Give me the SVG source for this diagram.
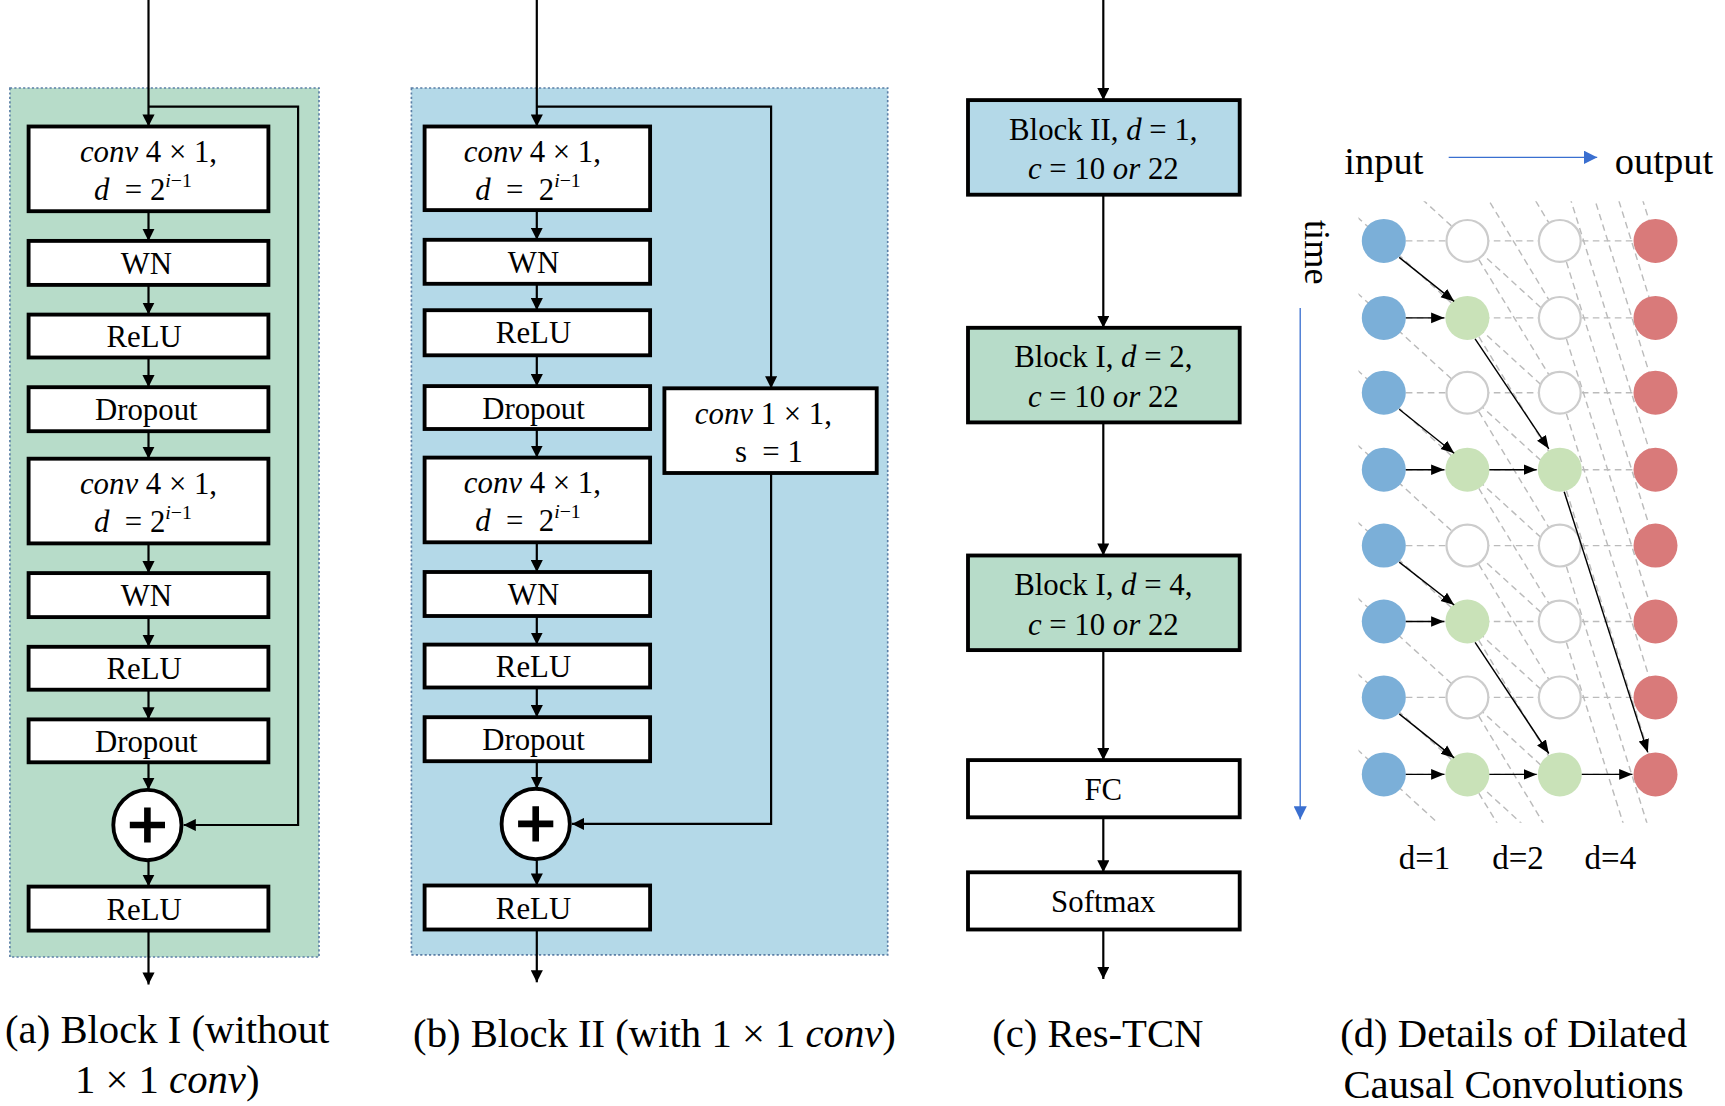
<svg xmlns="http://www.w3.org/2000/svg" width="1725" height="1106" viewBox="0 0 1725 1106">
<style>
.bx{fill:#fff;stroke:#000;stroke-width:3.5}
.t{font-family:"Liberation Serif",serif;font-size:28px;text-anchor:middle;fill:#000}
.cap{font-family:"Liberation Serif",serif;font-size:37px;text-anchor:middle;fill:#000}
.ln{stroke:#000;stroke-width:2;fill:none}
.dg{stroke:#bbb;stroke-width:1.3;stroke-dasharray:6 4;fill:none}
.ar{stroke:#000;stroke-width:1.3;fill:none}
</style>
<defs>
<marker id="ah" viewBox="0 0 10 10" refX="10" refY="5" markerWidth="11" markerHeight="11" markerUnits="userSpaceOnUse" orient="auto"><path d="M0,0L10,5L0,10z" fill="#000"/></marker>
<marker id="as" viewBox="0 0 10 10" refX="10" refY="5" markerWidth="12" markerHeight="12" markerUnits="userSpaceOnUse" orient="auto"><path d="M0,1L10,5L0,9z" fill="#000"/></marker>
<marker id="ab" viewBox="0 0 10 10" refX="10" refY="5" markerWidth="12" markerHeight="12" markerUnits="userSpaceOnUse" orient="auto"><path d="M0,0L10,5L0,10z" fill="#3a6fd0"/></marker>
<clipPath id="cp"><rect x="1235" y="183" width="300" height="565"/></clipPath>
</defs>
<g transform="scale(1.1)">
<rect id="panelA" x="9" y="80" width="281" height="790" fill="#b7dcc9" stroke="#5b7fa6" stroke-width="1.5" stroke-dasharray="2 2"/>
<rect id="panelB" x="374" y="80" width="433" height="788" fill="#b4d9e8" stroke="#5b7fa6" stroke-width="1.5" stroke-dasharray="2 2"/>

<g id="connectors">
<line class="ln" x1="135" y1="0" x2="135" y2="115" marker-end="url(#ah)"/>
<polyline class="ln" points="135,97 271,97 271,750 167,750" marker-end="url(#ah)"/>
<line class="ln" x1="135" y1="192" x2="135" y2="219" marker-end="url(#ah)"/>
<line class="ln" x1="135" y1="259" x2="135" y2="286" marker-end="url(#ah)"/>
<line class="ln" x1="135" y1="325" x2="135" y2="352" marker-end="url(#ah)"/>
<line class="ln" x1="135" y1="392" x2="135" y2="417" marker-end="url(#ah)"/>
<line class="ln" x1="135" y1="494" x2="135" y2="521" marker-end="url(#ah)"/>
<line class="ln" x1="135" y1="561" x2="135" y2="588" marker-end="url(#ah)"/>
<line class="ln" x1="135" y1="627" x2="135" y2="654" marker-end="url(#ah)"/>
<line class="ln" x1="135" y1="693" x2="135" y2="718" marker-end="url(#ah)"/>
<line class="ln" x1="135" y1="783" x2="135" y2="806" marker-end="url(#ah)"/>
<line class="ln" x1="135" y1="846" x2="135" y2="895" marker-end="url(#ah)"/>
<line class="ln" x1="488" y1="0" x2="488" y2="115" marker-end="url(#ah)"/>
<polyline class="ln" points="488,97 701,97 701,353" marker-end="url(#ah)"/>
<polyline class="ln" points="701,430 701,749 520,749" marker-end="url(#ah)"/>
<line class="ln" x1="488" y1="191" x2="488" y2="218" marker-end="url(#ah)"/>
<line class="ln" x1="488" y1="258" x2="488" y2="282" marker-end="url(#ah)"/>
<line class="ln" x1="488" y1="323" x2="488" y2="351" marker-end="url(#ah)"/>
<line class="ln" x1="488" y1="390" x2="488" y2="416" marker-end="url(#ah)"/>
<line class="ln" x1="488" y1="493" x2="488" y2="520" marker-end="url(#ah)"/>
<line class="ln" x1="488" y1="560" x2="488" y2="586" marker-end="url(#ah)"/>
<line class="ln" x1="488" y1="625" x2="488" y2="652" marker-end="url(#ah)"/>
<line class="ln" x1="488" y1="692" x2="488" y2="717" marker-end="url(#ah)"/>
<line class="ln" x1="488" y1="782" x2="488" y2="805" marker-end="url(#ah)"/>
<line class="ln" x1="488" y1="845" x2="488" y2="893" marker-end="url(#ah)"/>
<line class="ln" x1="1003" y1="0" x2="1003" y2="91" marker-end="url(#ah)"/>
<line class="ln" x1="1003" y1="177" x2="1003" y2="298" marker-end="url(#ah)"/>
<line class="ln" x1="1003" y1="384" x2="1003" y2="505" marker-end="url(#ah)"/>
<line class="ln" x1="1003" y1="591" x2="1003" y2="691" marker-end="url(#ah)"/>
<line class="ln" x1="1003" y1="743" x2="1003" y2="793" marker-end="url(#ah)"/>
<line class="ln" x1="1003" y1="845" x2="1003" y2="890" marker-end="url(#ah)"/>
</g>

<g id="a-conv1"><rect class="bx" x="26" y="115" width="218" height="77"/><text class="t" x="135" y="147"><tspan font-style="italic">conv</tspan> 4 × 1,</text><text class="t" x="130" y="182" xml:space="preserve"><tspan font-style="italic">d</tspan>  = 2<tspan font-size="18" dy="-12"><tspan font-style="italic">i</tspan>−1</tspan></text></g>
<g id="a-wn1"><rect class="bx" x="26" y="219" width="218" height="40"/><text class="t" x="133" y="249">WN</text></g>
<g id="a-relu1"><rect class="bx" x="26" y="286" width="218" height="39"/><text class="t" x="131" y="315">ReLU</text></g>
<g id="a-drop1"><rect class="bx" x="26" y="352" width="218" height="40"/><text class="t" x="133" y="382">Dropout</text></g>
<g id="a-conv2"><rect class="bx" x="26" y="417" width="218" height="77"/><text class="t" x="135" y="449"><tspan font-style="italic">conv</tspan> 4 × 1,</text><text class="t" x="130" y="484" xml:space="preserve"><tspan font-style="italic">d</tspan>  = 2<tspan font-size="18" dy="-12"><tspan font-style="italic">i</tspan>−1</tspan></text></g>
<g id="a-wn2"><rect class="bx" x="26" y="521" width="218" height="40"/><text class="t" x="133" y="551">WN</text></g>
<g id="a-relu2"><rect class="bx" x="26" y="588" width="218" height="39"/><text class="t" x="131" y="617">ReLU</text></g>
<g id="a-drop2"><rect class="bx" x="26" y="654" width="218" height="39"/><text class="t" x="133" y="684">Dropout</text></g>
<g id="a-add"><ellipse cx="134" cy="750" rx="31" ry="32" fill="#fff" stroke="#000" stroke-width="3.5"/><path d="M134,734V766M118,750H150" stroke="#000" stroke-width="6"/></g>
<g id="a-relu3"><rect class="bx" x="26" y="806" width="218" height="40"/><text class="t" x="131" y="836">ReLU</text></g>

<g id="b-conv1"><rect class="bx" x="386" y="115" width="205" height="76"/><text class="t" x="484" y="147"><tspan font-style="italic">conv</tspan> 4 × 1,</text><text class="t" x="480" y="182" xml:space="preserve"><tspan font-style="italic">d</tspan>  =  2<tspan font-size="18" dy="-12"><tspan font-style="italic">i</tspan>−1</tspan></text></g>
<g id="b-wn1"><rect class="bx" x="386" y="218" width="205" height="40"/><text class="t" x="485" y="248">WN</text></g>
<g id="b-relu1"><rect class="bx" x="386" y="282" width="205" height="41"/><text class="t" x="485" y="312">ReLU</text></g>
<g id="b-drop1"><rect class="bx" x="386" y="351" width="205" height="39"/><text class="t" x="485" y="381">Dropout</text></g>
<g id="b-conv2"><rect class="bx" x="386" y="416" width="205" height="77"/><text class="t" x="484" y="448"><tspan font-style="italic">conv</tspan> 4 × 1,</text><text class="t" x="480" y="483" xml:space="preserve"><tspan font-style="italic">d</tspan>  =  2<tspan font-size="18" dy="-12"><tspan font-style="italic">i</tspan>−1</tspan></text></g>
<g id="b-wn2"><rect class="bx" x="386" y="520" width="205" height="40"/><text class="t" x="485" y="550">WN</text></g>
<g id="b-relu2"><rect class="bx" x="386" y="586" width="205" height="39"/><text class="t" x="485" y="615">ReLU</text></g>
<g id="b-drop2"><rect class="bx" x="386" y="652" width="205" height="40"/><text class="t" x="485" y="682">Dropout</text></g>
<g id="b-conv1x1"><rect class="bx" x="604" y="353" width="193" height="77" stroke-width="3"/><text class="t" x="694" y="385"><tspan font-style="italic">conv</tspan> 1 × 1,</text><text class="t" x="699" y="420" xml:space="preserve">s  = 1</text></g>
<g id="b-add"><ellipse cx="487" cy="749" rx="31" ry="32" fill="#fff" stroke="#000" stroke-width="3.5"/><path d="M487,733V765M471,749H503" stroke="#000" stroke-width="6"/></g>
<g id="b-relu3"><rect class="bx" x="386" y="805" width="205" height="40"/><text class="t" x="485" y="835">ReLU</text></g>

<g id="c-b1"><rect class="bx" x="880" y="91" width="247" height="86" style="fill:#b4d9e8"/><text class="t" x="1003" y="127">Block II, <tspan font-style="italic">d</tspan> = 1,</text><text class="t" x="1003" y="163"><tspan font-style="italic">c</tspan> = 10 <tspan font-style="italic">or</tspan> 22</text></g>
<g id="c-b2"><rect class="bx" x="880" y="298" width="247" height="86" style="fill:#b7dcc9"/><text class="t" x="1003" y="334">Block I, <tspan font-style="italic">d</tspan> = 2,</text><text class="t" x="1003" y="370"><tspan font-style="italic">c</tspan> = 10 <tspan font-style="italic">or</tspan> 22</text></g>
<g id="c-b3"><rect class="bx" x="880" y="505" width="247" height="86" style="fill:#b7dcc9"/><text class="t" x="1003" y="541">Block I, <tspan font-style="italic">d</tspan> = 4,</text><text class="t" x="1003" y="577"><tspan font-style="italic">c</tspan> = 10 <tspan font-style="italic">or</tspan> 22</text></g>
<g id="c-fc"><rect class="bx" x="880" y="691" width="247" height="52"/><text class="t" x="1003" y="727">FC</text></g>
<g id="c-sm"><rect class="bx" x="880" y="793" width="247" height="52"/><text class="t" x="1003" y="829">Softmax</text></g>

<g id="d-grid">
<g clip-path="url(#cp)">
<g class="dg">
<line x1="1258" y1="219" x2="1505" y2="219"/><line x1="1258" y1="289" x2="1505" y2="289"/><line x1="1258" y1="357" x2="1505" y2="357"/><line x1="1258" y1="427" x2="1505" y2="427"/><line x1="1258" y1="496" x2="1505" y2="496"/><line x1="1258" y1="565" x2="1505" y2="565"/><line x1="1258" y1="634" x2="1505" y2="634"/><line x1="1258" y1="704" x2="1505" y2="704"/>
<line x1="1182" y1="150" x2="1410" y2="358"/><line x1="1182" y1="219" x2="1410" y2="427"/><line x1="1182" y1="289" x2="1410" y2="497"/><line x1="1182" y1="357" x2="1410" y2="565"/><line x1="1182" y1="427" x2="1410" y2="635"/><line x1="1182" y1="496" x2="1410" y2="704"/><line x1="1182" y1="565" x2="1410" y2="773"/><line x1="1182" y1="634" x2="1410" y2="842"/><line x1="1182" y1="80" x2="1410" y2="288"/>
<line x1="1334" y1="150" x2="1418" y2="289"/><line x1="1334" y1="80" x2="1418" y2="219"/><line x1="1334" y1="219" x2="1418" y2="357"/><line x1="1334" y1="289" x2="1418" y2="427"/><line x1="1334" y1="357" x2="1418" y2="496"/><line x1="1334" y1="427" x2="1418" y2="565"/><line x1="1334" y1="496" x2="1418" y2="634"/><line x1="1334" y1="565" x2="1418" y2="704"/><line x1="1334" y1="634" x2="1418" y2="773"/><line x1="1334" y1="704" x2="1418" y2="842"/>
<line x1="1418" y1="-58" x2="1505" y2="219"/><line x1="1418" y1="11" x2="1505" y2="289"/><line x1="1418" y1="80" x2="1505" y2="357"/><line x1="1418" y1="150" x2="1505" y2="427"/><line x1="1418" y1="219" x2="1505" y2="496"/><line x1="1418" y1="289" x2="1505" y2="565"/><line x1="1418" y1="357" x2="1505" y2="634"/><line x1="1418" y1="427" x2="1505" y2="704"/><line x1="1418" y1="496" x2="1505" y2="773"/><line x1="1418" y1="565" x2="1505" y2="842"/>
</g>
</g>
</g>
<g id="d-nodes">
<g fill="#7bafd8"><circle cx="1258" cy="219" r="20"/><circle cx="1258" cy="289" r="20"/><circle cx="1258" cy="357" r="20"/><circle cx="1258" cy="427" r="20"/><circle cx="1258" cy="496" r="20"/><circle cx="1258" cy="565" r="20"/><circle cx="1258" cy="634" r="20"/><circle cx="1258" cy="704" r="20"/></g>
<g fill="#fff" stroke="#ccc" stroke-width="2"><circle cx="1334" cy="219" r="19"/><circle cx="1334" cy="357" r="19"/><circle cx="1334" cy="496" r="19"/><circle cx="1334" cy="634" r="19"/><circle cx="1418" cy="219" r="19"/><circle cx="1418" cy="289" r="19"/><circle cx="1418" cy="357" r="19"/><circle cx="1418" cy="496" r="19"/><circle cx="1418" cy="565" r="19"/><circle cx="1418" cy="634" r="19"/></g>
<g fill="#c9e2b8"><circle cx="1334" cy="289" r="20"/><circle cx="1334" cy="427" r="20"/><circle cx="1334" cy="565" r="20"/><circle cx="1334" cy="704" r="20"/><circle cx="1418" cy="427" r="20"/><circle cx="1418" cy="704" r="20"/></g>
<g fill="#d97a7a"><circle cx="1505" cy="219" r="20"/><circle cx="1505" cy="289" r="20"/><circle cx="1505" cy="357" r="20"/><circle cx="1505" cy="427" r="20"/><circle cx="1505" cy="496" r="20"/><circle cx="1505" cy="565" r="20"/><circle cx="1505" cy="634" r="20"/><circle cx="1505" cy="704" r="20"/></g>
</g>
<g id="d-arrows" class="ar">
<line x1="1272" y1="234" x2="1322" y2="274" marker-end="url(#as)"/><line x1="1278" y1="289" x2="1313" y2="289" marker-end="url(#as)"/>
<line x1="1272" y1="372" x2="1322" y2="412" marker-end="url(#as)"/><line x1="1278" y1="427" x2="1313" y2="427" marker-end="url(#as)"/>
<line x1="1272" y1="511" x2="1322" y2="550" marker-end="url(#as)"/><line x1="1278" y1="565" x2="1313" y2="565" marker-end="url(#as)"/>
<line x1="1272" y1="649" x2="1322" y2="689" marker-end="url(#as)"/><line x1="1278" y1="704" x2="1313" y2="704" marker-end="url(#as)"/>
<line x1="1341" y1="308" x2="1408" y2="408" marker-end="url(#as)"/><line x1="1354" y1="427" x2="1397" y2="427" marker-end="url(#as)"/>
<line x1="1341" y1="584" x2="1408" y2="685" marker-end="url(#as)"/><line x1="1354" y1="704" x2="1397" y2="704" marker-end="url(#as)"/>
<line x1="1422" y1="447" x2="1498" y2="684" marker-end="url(#as)"/><line x1="1438" y1="704" x2="1484" y2="704" marker-end="url(#as)"/>
</g>
<g id="d-labels">
<text x="1222" y="158" style="font-family:'Liberation Serif',serif;font-size:35px">input</text>
<line x1="1317" y1="143" x2="1452" y2="143" stroke="#3a6fd0" stroke-width="1.2" marker-end="url(#ab)"/>
<text x="1468" y="158" style="font-family:'Liberation Serif',serif;font-size:35px">output</text>
<text transform="translate(1186,200) rotate(90)" style="font-family:'Liberation Serif',serif;font-size:33px">time</text>
<line x1="1182" y1="280" x2="1182" y2="745" stroke="#3a6fd0" stroke-width="1.2" marker-end="url(#ab)"/>
<text x="1295" y="790" class="t" style="font-size:30px">d=1</text>
<text x="1380" y="790" class="t" style="font-size:30px">d=2</text>
<text x="1464" y="790" class="t" style="font-size:30px">d=4</text>
</g>

<g id="captions">
<text class="cap" x="152" y="948">(a) Block I (without</text>
<text class="cap" x="152" y="994">1 × 1 <tspan font-style="italic">conv</tspan>)</text>
<text class="cap" x="595" y="952">(b) Block II (with 1 × 1 <tspan font-style="italic">conv</tspan>)</text>
<text class="cap" x="998" y="952">(c) Res-TCN</text>
<text class="cap" x="1376" y="952">(d) Details of Dilated</text>
<text class="cap" x="1376" y="998">Causal Convolutions</text>
</g>
</g>
</svg>
